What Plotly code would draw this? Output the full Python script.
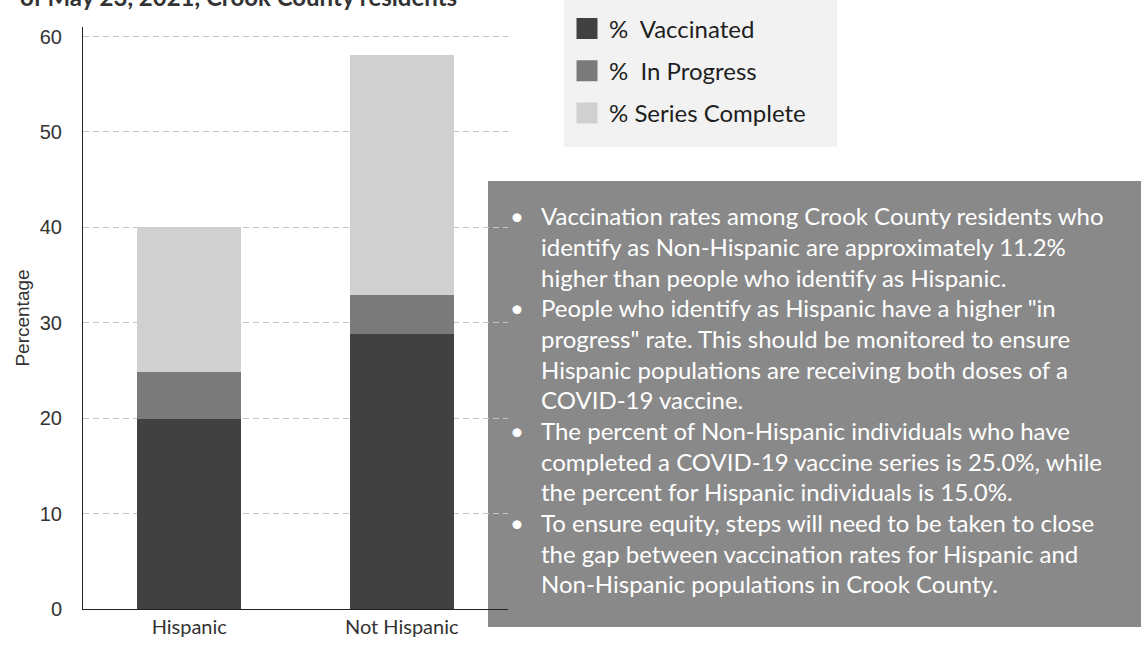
import plotly.graph_objects as go

# ---- data ----
categories = ["Hispanic", "Not Hispanic"]
vaccinated = [19.9, 28.8]
in_progress = [4.9, 4.1]
series_complete = [15.2, 25.2]
series_names = ["%\u00a0 Vaccinated", "%\u00a0 In Progress", "% Series Complete"]
series_colors = ["#414141", "#7a7a7a", "#d0d0d0"]
y_ticks = [0, 10, 20, 30, 40, 50, 60]
title_text = "of May 23, 2021, Crook County residents"
notes = [
    ["Vaccination rates among Crook County residents who",
     "identify as Non-Hispanic are approximately 11.2%",
     "higher than people who identify as Hispanic."],
    ["People who identify as Hispanic have a higher \"in",
     "progress\" rate. This should be monitored to ensure",
     "Hispanic populations are receiving both doses of a",
     "COVID-19 vaccine."],
    ["The percent of Non-Hispanic individuals who have",
     "completed a COVID-19 vaccine series is 25.0%, while",
     "the percent for Hispanic individuals is 15.0%."],
    ["To ensure equity, steps will need to be taken to close",
     "the gap between vaccination rates for Hispanic and",
     "Non-Hispanic populations in Crook County."],
]

# ---- layout geometry (pixels) ----
W, H = 1141, 648
L, R, T, B = 83, 508, 27, 609


def px(x):
    return (x - L) / (R - L)


def py(y):
    return (B - y) / (B - T)


fig = go.Figure()
for vals, name, col in zip([vaccinated, in_progress, series_complete], series_names, series_colors):
    fig.add_trace(go.Bar(x=categories, y=vals, name=name, marker=dict(color=col, line=dict(width=0)),
                         width=0.49, showlegend=False))
# legend entries
for i, (name, col) in enumerate(zip(series_names, series_colors)):
    fig.add_trace(go.Scatter(x=[None], y=[None], mode="markers", name=name, legendgroup=str(i),
                             marker=dict(symbol="square", size=16, color=col, line=dict(color=col, width=6))))

fig.update_layout(
    width=W, height=H, barmode="stack",
    margin=dict(l=L, r=W - R, t=T, b=H - B, pad=0, autoexpand=False),
    paper_bgcolor="white", plot_bgcolor="white",
    font=dict(family="Lato", color="#333"),
    showlegend=True,
    legend=dict(x=px(565), y=py(6.5), xanchor="left", yanchor="top", bgcolor="rgba(0,0,0,0)",
                font=dict(family="Lato", size=24, color="#1e1e1e"), tracegroupgap=8,
                itemsizing="trace", itemwidth=34, borderwidth=0),
    xaxis=dict(range=[-0.5, 1.5], showgrid=False, showline=True, linecolor="#222", linewidth=1,
               ticks="", tickfont=dict(family="Lato", size=20, color="#333"), zeroline=False,
               automargin=False),
    yaxis=dict(range=[0, 61], tickvals=y_ticks, showgrid=True, gridcolor="#c4c4c4", griddash="6px,4px",
               gridwidth=1, showline=True, linecolor="#222", linewidth=1, zeroline=False,
               ticks="", ticklabelstandoff=16, automargin=False,
               tickfont=dict(family="Liberation Sans", size=20, color="#333"),
               title=dict(text="Percentage", font=dict(family="Liberation Sans", size=19, color="#333"),
                          standoff=5)),
)

# legend background box
fig.add_shape(type="rect", xref="paper", yref="paper", x0=px(564), x1=px(837), y0=py(147), y1=py(-20),
              fillcolor="#f2f2f2", line=dict(width=0), layer="below")
# notes box
fig.add_shape(type="rect", xref="paper", yref="paper", x0=px(488), x1=px(1160), y0=py(627), y1=py(181),
              fillcolor="#898989", line=dict(width=0), layer="below")

line_gap = 30.64
first_center = 216
k = 0
for para in notes:
    for j, ln in enumerate(para):
        yc = first_center + line_gap * k
        fig.add_annotation(xref="paper", yref="paper", x=px(539), y=py(yc), xanchor="left", yanchor="middle",
                           text=ln, showarrow=False, align="left",
                           font=dict(family="Lato", size=24, color="white"))
        if j == 0:
            fig.add_annotation(xref="paper", yref="paper", x=px(517), y=py(yc), xanchor="center",
                               yanchor="middle", text="•", showarrow=False,
                               font=dict(family="Lato", size=24, color="white"))
        k += 1

fig.add_annotation(xref="paper", yref="paper", x=px(18), y=py(-3), xanchor="left", yanchor="middle",
                   text="<b>" + title_text + "</b>", showarrow=False,
                   font=dict(family="Lato", size=24, color="#333"))

fig.write_html("out.html", config={"displayModeBar": False},
               post_script="document.body.style.margin='0';")
